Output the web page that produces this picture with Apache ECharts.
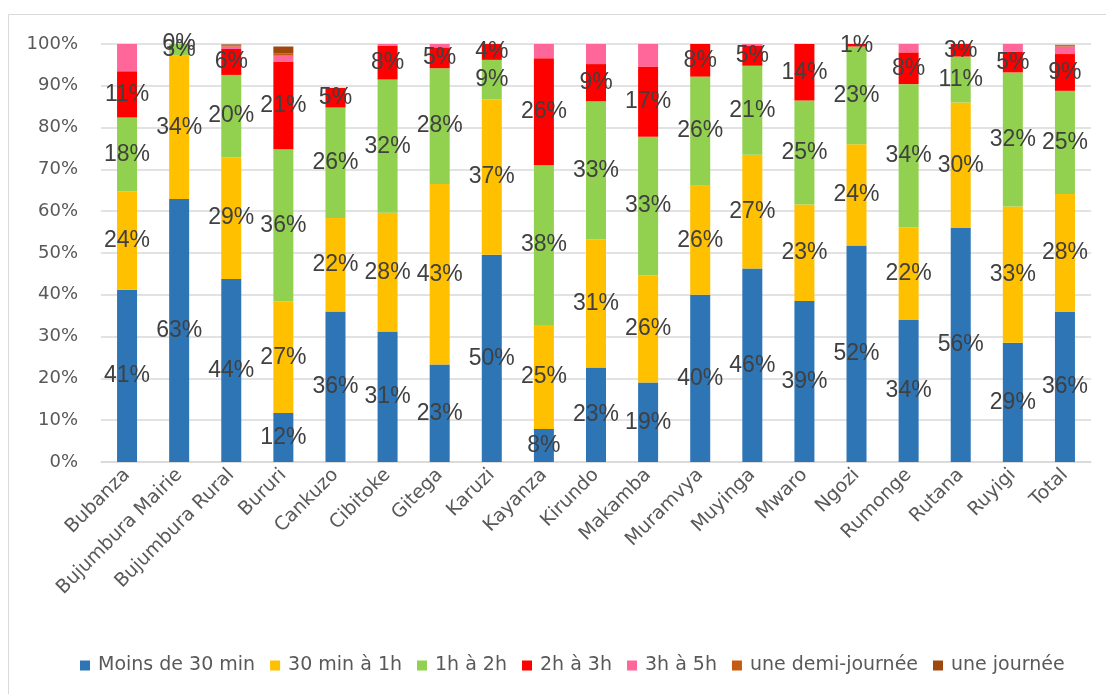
<!DOCTYPE html>
<html><head><meta charset="utf-8">
<script src="https://cdn.jsdelivr.net/npm/echarts@6/dist/echarts.min.js"></script>
<style>html,body{margin:0;padding:0;background:#fff}#c{width:1106px;height:694px}</style>
</head><body><div id="c"></div>
<script>
const categories = ["Bubanza","Bujumbura Mairie","Bujumbura Rural","Bururi","Cankuzo","Cibitoke","Gitega","Karuzi","Kayanza","Kirundo","Makamba","Muramvya","Muyinga","Mwaro","Ngozi","Rumonge","Rutana","Ruyigi","Total"];
const seriesNames = ["Moins de 30 min","30 min à 1h","1h à 2h","2h à 3h","3h à 5h","une demi-journée","une journée"];
const moins30 = [41.2,62.9,43.8,11.7,36.0,31.2,23.3,49.6,7.9,22.6,19.0,40.0,46.3,38.5,51.8,34.0,56.0,28.5,35.9];
const min30a1h = [23.6,34.3,29.1,26.7,22.4,28.4,43.2,37.2,24.9,30.6,25.7,26.1,27.2,23.1,24.2,22.1,30.0,32.6,28.2];
const h1a2h = [17.6,2.8,19.7,36.4,26.4,31.9,27.7,9.4,38.2,33.1,33.1,26.1,21.3,24.9,23.4,34.3,11.0,32.1,24.7];
const h2a3h = [11.1,0,6.2,21.0,4.7,8.1,5.0,3.8,25.6,8.9,16.8,7.8,4.8,13.6,0.6,7.6,3.0,4.9,8.8];
const h3a5h = [6.5,0,0.6,1.4,0,0.4,0.8,0,3.4,4.8,5.4,0,0.4,0,0,2.0,0,1.9,1.8];
const demiJournee = [0,0,0.3,0.6,0,0,0,0,0,0,0,0,0,0,0,0,0,0,0.2];
const journee = [0,0,0.2,1.6,0,0,0,0,0,0,0,0,0,0,0,0,0,0,0.2];
const yTicks = [0,10,20,30,40,50,60,70,80,90,100];

const values = [moins30,min30a1h,h1a2h,h2a3h,h3a5h,demiJournee,journee];
const colors = ['#2E75B6','#FFC000','#92D050','#FF0000','#FF6699','#C55A11','#9E480E'];
const labelled = [true,true,true,true,false,false,false];
const font = "'Liberation Sans', sans-serif";
const axisFont = "'DejaVu Sans', sans-serif";

const chart = echarts.init(document.getElementById('c'));
chart.setOption({
  animation:false,
  graphic:[{type:'rect',shape:{x:8.5,y:14.5,width:1200,height:800},style:{fill:'none',stroke:'#D9D9D9',lineWidth:1},silent:true}],
  grid:{left:101,right:15,top:44,bottom:232,containLabel:false},
  legend:{bottom:14,left:75,itemWidth:10,itemHeight:10,itemGap:15,icon:'rect',
    textStyle:{fontFamily:axisFont,fontSize:19,color:'#595959',padding:[0,0,0,3]},data:seriesNames},
  xAxis:{type:'category',data:categories,
    axisLine:{lineStyle:{color:'#D9D9D9',width:1.5}},axisTick:{show:false},
    axisLabel:{rotate:45,interval:0,fontFamily:axisFont,fontSize:19,color:'#595959',margin:10}},
  yAxis:{type:'value',min:yTicks[0],max:yTicks[yTicks.length-1],interval:10,
    axisLine:{show:false},axisTick:{show:false},
    splitLine:{lineStyle:{color:'#D9D9D9',width:1.5}},
    axisLabel:{formatter:v=>v+'%',fontFamily:axisFont,fontSize:18,color:'#595959',margin:23}},
  series:seriesNames.map((n,i)=>({
    name:n,type:'bar',stack:'s',barWidth:20,data:values[i],
    itemStyle:{color:colors[i]},
    label:{show:labelled[i],position:'inside',formatter:p=>Math.round(p.value)+'%',
      fontFamily:font,fontSize:23,color:'#404040'}
  }))
});
</script></body></html>
